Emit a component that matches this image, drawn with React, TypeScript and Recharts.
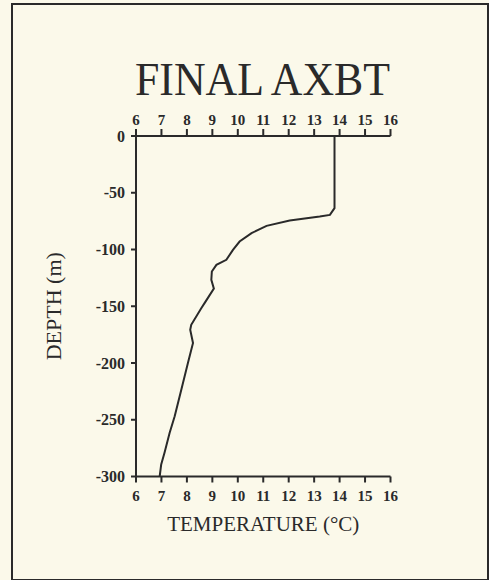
import { Label, Scatter, ScatterChart, XAxis, YAxis } from "recharts"

const depths = [
  0, -63.6, -69.5, -71, -74.5, -79.2, -85.6, -93, -100.3, -109.1, -113.5, -119.4, -126.7, -134.5, -147, -151.6,
  -166.3, -170.7, -182.4, -200, -223.5, -247, -261.6, -279, -289.4, -300,
]
const temps = [
  13.8, 13.8, 13.62, 13.22, 12.04, 11.13, 10.54, 10.07, 9.81, 9.55, 9.16, 8.98, 8.96, 9.06, 8.7, 8.57, 8.17, 8.13,
  8.24, 8.04, 7.78, 7.52, 7.32, 7.12, 6.99, 6.93,
]
const tempTicks = [6, 7, 8, 9, 10, 11, 12, 13, 14, 15, 16]
const depthTicks = [0, -50, -100, -150, -200, -250, -300]

const profile = depths.map((depth, i) => ({ depth, temp: temps[i] }))

const serif = "'Liberation Serif', 'DejaVu Serif', serif"
const ink = "#2a2a2a"
const tickStyle = { fontFamily: serif, fontSize: 15, fontWeight: 700, fill: ink }

export default function App() {
  return (
    <div style={{ position: "absolute", left: 0, top: 0, width: 489, height: 580, background: "#fbf9ea" }}>
      <div
        style={{
          position: "absolute",
          left: 11,
          top: 3,
          width: 474,
          height: 574,
          border: `2px solid ${ink}`,
        }}
      />
      <svg width={489} height={110} style={{ position: "absolute", left: 0, top: 0 }}>
        <text
          x={262.5}
          y={95}
          textAnchor="middle"
          textLength={255}
          lengthAdjust="spacingAndGlyphs"
          style={{ fontFamily: serif, fontSize: 46, fill: ink }}
        >
          FINAL AXBT
        </text>
      </svg>
      <div style={{ position: "absolute", left: 0, top: 0 }}>
        <ScatterChart width={489} height={580} margin={{ top: 106, right: 98.5, bottom: 43.5, left: 0 }}>
          <XAxis
            xAxisId="top"
            orientation="top"
            type="number"
            dataKey="temp"
            domain={[6, 16]}
            ticks={tempTicks}
            height={30}
            allowDataOverflow
            stroke={ink}
            strokeWidth={2}
            tickSize={7}
            tickMargin={4}
            tick={tickStyle}
            interval={0}
          />
          <XAxis
            xAxisId="bottom"
            orientation="bottom"
            type="number"
            dataKey="temp"
            domain={[6, 16]}
            ticks={tempTicks}
            height={60}
            allowDataOverflow
            stroke={ink}
            strokeWidth={2}
            tickSize={6}
            tickMargin={8}
            tick={tickStyle}
            interval={0}
          >
            <Label
              value="TEMPERATURE (°C)"
              position="insideBottom"
              offset={6}
              style={{ fontFamily: serif, fontSize: 21, fill: ink }}
            />
          </XAxis>
          <YAxis
            type="number"
            dataKey="depth"
            domain={[-300, 0]}
            ticks={depthTicks}
            width={136}
            allowDataOverflow
            stroke={ink}
            strokeWidth={2}
            tickSize={5}
            tickMargin={6}
            tick={{ ...tickStyle, fontSize: 16 }}
            interval={0}
          >
            <Label
              value="DEPTH (m)"
              content={({ viewBox }: any) => {
                const cy = viewBox.y + viewBox.height / 2
                return (
                  <text
                    x={53}
                    y={cy}
                    transform={`rotate(-90 53 ${cy})`}
                    textAnchor="middle"
                    dominantBaseline="central"
                    style={{ fontFamily: serif, fontSize: 22, fill: ink }}
                  >
                    DEPTH (m)
                  </text>
                )
              }}
            />
          </YAxis>
          <Scatter
            xAxisId="bottom"
            data={profile}
            line={{ stroke: ink, strokeWidth: 2 }}
            lineType="joint"
            shape={() => <g />}
            isAnimationActive={false}
          />
        </ScatterChart>
      </div>
    </div>
  )
}
